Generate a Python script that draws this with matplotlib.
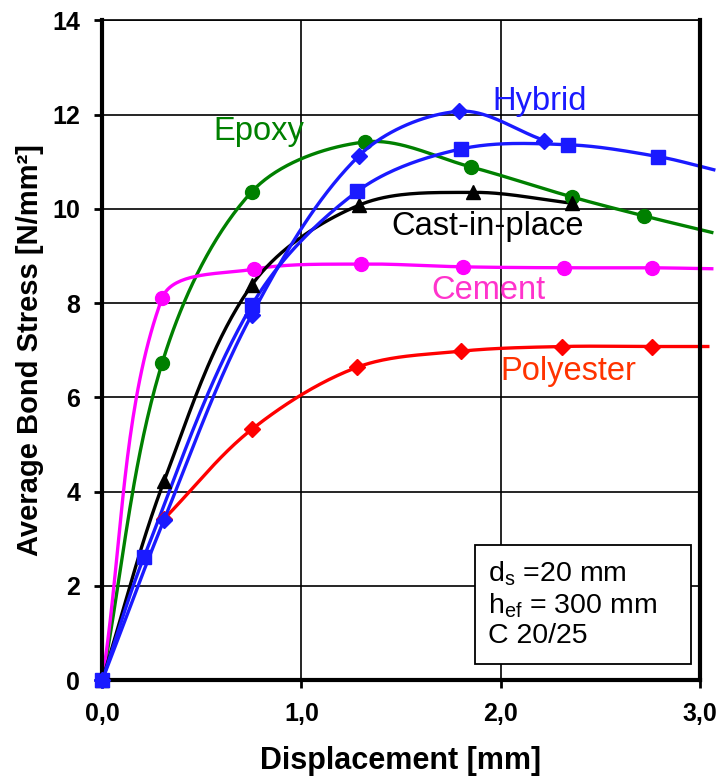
import numpy as np
import matplotlib
matplotlib.use("Agg")
import matplotlib.pyplot as plt
from matplotlib.ticker import FuncFormatter
from matplotlib.patches import Rectangle

plt.rcParams['font.family'] = ['Liberation Sans', 'DejaVu Sans']

# data (displacement mm, bond stress N/mm2)
epoxy_x = [0.0, 0.30, 0.75, 1.32, 1.85, 2.36, 2.72, 3.06]
epoxy_y = [0.0, 6.72, 10.36, 11.42, 10.89, 10.25, 9.85, 9.50]

cement_x = [0.0, 0.30, 0.76, 1.30, 1.81, 2.32, 2.76, 3.06]
cement_y = [0.0, 8.10, 8.72, 8.83, 8.77, 8.75, 8.75, 8.73]

cast_x = [0.0, 0.31, 0.75, 1.29, 1.86, 2.36]
cast_y = [0.0, 4.22, 8.38, 10.08, 10.35, 10.12]

hyb_sq_x = [0.0, 0.21, 0.75, 1.28, 1.80, 2.34, 2.79, 3.07]
hyb_sq_y = [0.0, 2.62, 7.95, 10.37, 11.27, 11.36, 11.11, 10.83]

hyb_dia_x = [0.0, 0.31, 0.75, 1.29, 1.79, 2.22]
hyb_dia_y = [0.0, 3.40, 7.75, 11.13, 12.07, 11.45]

poly_x = [0.31, 0.75, 1.28, 1.80, 2.31, 2.76, 3.04]
poly_y = [3.42, 5.32, 6.64, 6.98, 7.08, 7.08, 7.08]


def smooth(xs, ys, n=40):
    # spline through the points, tangents scaled by segment length
    # (done in screen-ish units so the curve does not overshoot)
    sc = np.array([200.0, 47.0])
    P = np.column_stack([xs, ys]).astype(float) * sc
    out = []
    m = len(P)
    for i in range(m - 1):
        p1, p2 = P[i], P[i + 1]
        p0 = P[i - 1] if i > 0 else p1
        p3 = P[i + 2] if i + 2 < m else p2
        d01 = np.linalg.norm(p1 - p0)
        d12 = np.linalg.norm(p2 - p1)
        d23 = np.linalg.norm(p3 - p2)
        t1 = (p2 - p0) / (d01 + d12)
        t2 = (p3 - p1) / (d12 + d23)
        c1 = p1 + t1 * d12 / 3
        c2 = p2 - t2 * d12 / 3
        t = np.linspace(0, 1, n)[:, None]
        b = (1 - t)**3 * p1 + 3 * (1 - t)**2 * t * c1 + 3 * (1 - t) * t**2 * c2 + t**3 * p2
        out.append(b if i == 0 else b[1:])
    b = np.vstack(out) / sc
    return b[:, 0], b[:, 1]


fig = plt.figure(figsize=(7.2, 7.81), dpi=100)
ax = fig.add_axes([0.142, 0.129, 0.83, 0.845])

lw = 2.4
ms = 10


def draw(xs, ys, color, marker, nmark, msize=ms, z=2):
    sx, sy = smooth(xs, ys)
    ax.plot(sx, sy, color=color, lw=lw, clip_on=False, zorder=z)
    ax.plot(xs[:nmark], ys[:nmark], ls='none', marker=marker, color=color,
            ms=msize, clip_on=False, zorder=z + 0.5)


draw(epoxy_x, epoxy_y, '#008000', 'o', 7)
draw(cement_x, cement_y, '#ff00ff', 'o', 7)
draw(cast_x, cast_y, 'black', '^', 6)
draw(poly_x, poly_y, '#ff0000', 'D', 6, msize=8.5)
draw(hyb_sq_x, hyb_sq_y, '#1a1aff', 's', 7, msize=9.5)
draw(hyb_dia_x, hyb_dia_y, '#1a1aff', 'D', 6, msize=8.5, z=3)

ax.set_xlim(0, 3.0)
ax.set_ylim(0, 14)
ax.set_xticks([0, 1, 2, 3])
ax.set_yticks(range(0, 15, 2))
ax.xaxis.set_major_formatter(FuncFormatter(lambda v, p: f"{v:.1f}".replace('.', ',')))
ax.grid(True, color='black', lw=1.2)
ax.set_axisbelow(True)
for s in ['left', 'bottom', 'right']:
    ax.spines[s].set_linewidth(3)
ax.spines['top'].set_linewidth(1.2)
ax.tick_params(direction='out', length=6, width=2, labelsize=18, pad=10)
for lab in ax.get_xticklabels() + ax.get_yticklabels():
    lab.set_fontweight('bold')

ax.set_xlabel('Displacement [mm]', fontsize=22, fontweight='bold', labelpad=14)
ax.set_ylabel('Average Bond Stress [N/mm²]', fontsize=21, fontweight='bold', labelpad=6)

fs = 23.5
ax.text(1.96, 12.28, 'Hybrid', color='#1a1aff', fontsize=fs, va='center')
ax.text(0.556, 11.64, 'Epoxy', color='#008000', fontsize=fs, va='center')
ax.text(1.45, 9.62, 'Cast-in-place', color='black', fontsize=fs, va='center')
ax.text(1.65, 8.26, 'Cement', color='#ff33cc', fontsize=fs, va='center')
ax.text(2.0, 6.55, 'Polyester', color='#ff3300', fontsize=fs, va='center')

# info box
ax.add_patch(Rectangle((0.623, 0.024), 0.363, 0.181, transform=ax.transAxes,
                       fc='white', ec='black', lw=1.3, zorder=4, clip_on=False))
ax.text(0.645, 0.115, '$\\mathregular{d_s}$ =20 mm\n$\\mathregular{h_{ef}}$ = 300 mm\nC 20/25',
        transform=ax.transAxes, fontsize=20.5, va='center', ha='left',
        linespacing=1.15, zorder=5)

fig.savefig('out.png', dpi=100)
